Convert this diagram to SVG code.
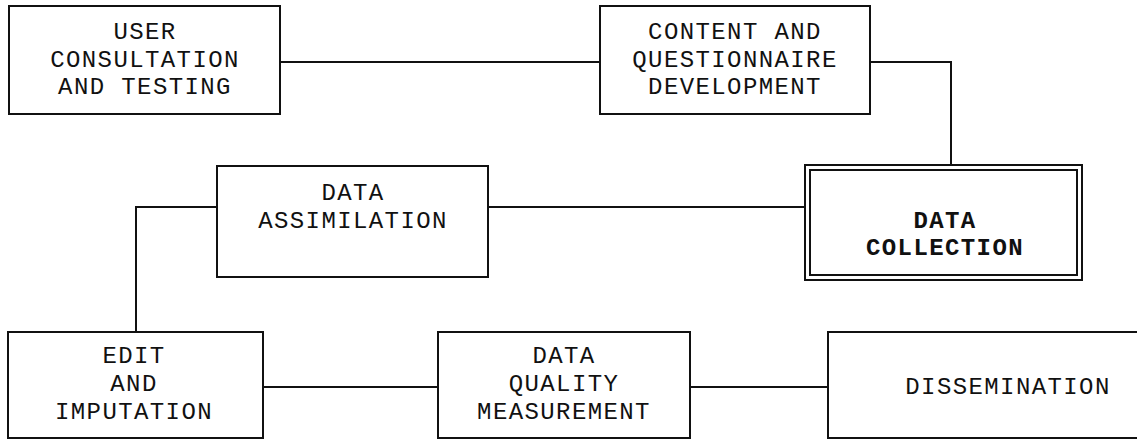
<svg xmlns="http://www.w3.org/2000/svg" width="1137" height="440" viewBox="0 0 1137 440">
  <style>
    .box { fill: #ffffff; stroke: #111111; stroke-width: 2; }
    .wire { fill: none; stroke: #111111; stroke-width: 2; }
    .lbl { font-family: "Liberation Mono", "Courier New", monospace; font-size: 24px; letter-spacing: 1.4px; fill: #111111; text-anchor: middle; dominant-baseline: central; }
    .bold { font-weight: bold; }
  </style>
  <rect width="1137" height="440" fill="#ffffff"/>

  <!-- connectors -->
  <g id="connectors">
    <path class="wire" d="M280 62 H600"/>
    <path class="wire" d="M870 62 H951 V165"/>
    <path class="wire" d="M488 207 H805"/>
    <path class="wire" d="M217 207 H136 V332"/>
    <path class="wire" d="M263 387 H438"/>
    <path class="wire" d="M690 387 H828"/>
  </g>

  <g id="user-consultation">
    <rect class="box" x="9" y="6" width="271" height="108"/>
    <text class="lbl" x="145" y="32">USER</text>
    <text class="lbl" x="145" y="60">CONSULTATION</text>
    <text class="lbl" x="145" y="87">AND TESTING</text>
  </g>

  <g id="content-questionnaire">
    <rect class="box" x="600" y="6" width="270" height="108"/>
    <text class="lbl" x="735" y="32">CONTENT AND</text>
    <text class="lbl" x="735" y="60">QUESTIONNAIRE</text>
    <text class="lbl" x="735" y="87">DEVELOPMENT</text>
  </g>

  <g id="data-assimilation">
    <rect class="box" x="217" y="166" width="271" height="111"/>
    <text class="lbl" x="353" y="193">DATA</text>
    <text class="lbl" x="353" y="221">ASSIMILATION</text>
  </g>

  <g id="data-collection">
    <rect class="box" x="805" y="165" width="277" height="115"/>
    <rect class="box" x="810" y="170" width="267" height="105"/>
    <text class="lbl bold" x="945" y="221">DATA</text>
    <text class="lbl bold" x="945" y="248">COLLECTION</text>
  </g>

  <g id="edit-imputation">
    <rect class="box" x="8" y="332" width="255" height="106"/>
    <text class="lbl" x="134" y="356">EDIT</text>
    <text class="lbl" x="134" y="384">AND</text>
    <text class="lbl" x="134" y="412">IMPUTATION</text>
  </g>

  <g id="data-quality">
    <rect class="box" x="438" y="332" width="252" height="106"/>
    <text class="lbl" x="564" y="356">DATA</text>
    <text class="lbl" x="564" y="384">QUALITY</text>
    <text class="lbl" x="564" y="412">MEASUREMENT</text>
  </g>

  <g id="dissemination">
    <path class="box" d="M1137 332 H828 V438 H1137"/>
    <text class="lbl" x="1008" y="387">DISSEMINATION</text>
  </g>
</svg>
